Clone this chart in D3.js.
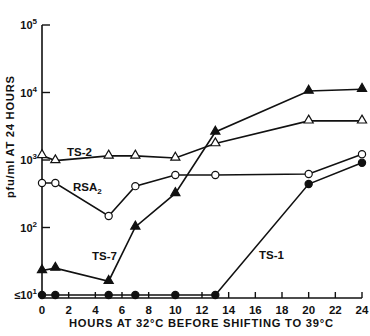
<!DOCTYPE html>
<html><head><meta charset="utf-8">
<script src="https://cdn.jsdelivr.net/npm/d3@7"></script>
<style>
body{margin:0;background:#fff;}
svg text{font-family:"Liberation Sans",Arial,sans-serif;fill:#111;}
</style></head>
<body><svg id="c" width="370" height="336"></svg>
<script>
const hours = [0, 1, 5, 7, 10, 13, 20, 24];
const ts2  = [1170, 980, 1150, 1150, 1070, 1750, 3800, 3800];
const ts7  = [23, 25, 16, 102, 320, 2600, 10500, 11200];
const rsa2 = [457, 457, 148, 410, 600, 600, 620, 1220];
const ts1  = [10, 10, 10, 10, 10, 10, 440, 910];
const xTicks = [0, 2, 4, 6, 8, 10, 12, 14, 16, 18, 20, 22, 24];
const yTicks = [10, 100, 1000, 10000, 100000];
const yExp = ["1", "2", "3", "4", "5"];
const xLabel = "HOURS AT 32°C BEFORE SHIFTING TO 39°C";

const svg = d3.select("#c");
const x = d3.scaleLinear().domain([0, 24]).range([42, 362]);
const y = d3.scaleLog().domain([10, 100000]).range([295, 25]);
const ink = "#111";
const axisY = 298;

svg.append("line").attr("x1", x(0)).attr("x2", x(0)).attr("y1", y(100000)).attr("y2", axisY)
  .attr("stroke", ink).attr("stroke-width", 1.6);
svg.append("line").attr("x1", x(0)).attr("x2", x(24)).attr("y1", axisY).attr("y2", axisY)
  .attr("stroke", ink).attr("stroke-width", 1.6);

svg.selectAll(".xt").data(xTicks).join("line")
  .attr("x1", d => x(d)).attr("x2", d => x(d)).attr("y1", axisY).attr("y2", axisY - 6)
  .attr("stroke", ink).attr("stroke-width", 1.4);
svg.selectAll(".xl").data(xTicks).join("text")
  .attr("x", d => x(d)).attr("y", 314).attr("text-anchor", "middle")
  .attr("font-size", 11.5).attr("font-weight", "bold").text(d => d);

svg.selectAll(".yt").data(yTicks.slice(1)).join("line")
  .attr("x1", x(0)).attr("x2", x(0) + 8).attr("y1", d => y(d)).attr("y2", d => y(d))
  .attr("stroke", ink).attr("stroke-width", 1.4);
yTicks.forEach((v, i) => {
  const t = svg.append("text").attr("x", 37).attr("y", y(v) + 4).attr("text-anchor", "end")
    .attr("font-size", 11).attr("font-weight", "bold");
  if (i === 0) t.append("tspan").text("≤");
  t.append("tspan").text("10");
  t.append("tspan").attr("dy", -5).attr("font-size", 8).text(yExp[i]);
});

svg.append("text").attr("x", 201).attr("y", 327).attr("text-anchor", "middle")
  .attr("font-size", 11.2).attr("font-weight", "bold").attr("textLength", 264)
  .text(xLabel);
svg.append("text").attr("transform", "translate(14,137) rotate(-90)").attr("text-anchor", "middle")
  .attr("font-size", 11.2).attr("font-weight", "bold").attr("textLength", 122)
  .text("pfu/ml  AT 24 HOURS");

const line = d3.line().x(d => x(d[0])).y(d => y(d[1]));
const series = [
  {vals: ts2, marker: "tri", fill: "#fff"},
  {vals: ts7, marker: "tri", fill: ink},
  {vals: rsa2, marker: "circ", fill: "#fff"},
  {vals: ts1, marker: "circ", fill: ink}
];
series.forEach(s => {
  const pts = hours.map((h, i) => [h, s.vals[i]]);
  svg.append("path").attr("d", line(pts)).attr("fill", "none")
    .attr("stroke", ink).attr("stroke-width", 1.6);
});
series.forEach(s => {
  const pts = hours.map((h, i) => [h, s.vals[i]]);
  if (s.marker === "tri") {
    svg.selectAll(null).data(pts).join("path")
      .attr("d", d3.symbol().type(d3.symbolTriangle).size(36))
      .attr("transform", d => `translate(${x(d[0])},${y(d[1]) - 0.5})`)
      .attr("fill", s.fill).attr("stroke", ink).attr("stroke-width", 1.2);
  } else {
    svg.selectAll(null).data(pts).join("circle")
      .attr("cx", d => x(d[0])).attr("cy", d => y(d[1])).attr("r", 3.6)
      .attr("fill", s.fill).attr("stroke", ink).attr("stroke-width", 1.2);
  }
});

const lab = (txt, xx, yy, sub) => {
  const t = svg.append("text").attr("x", xx).attr("y", yy).attr("font-size", 11.5).attr("font-weight", "bold").text(txt);
  if (sub) t.append("tspan").attr("dy", 3).attr("font-size", 8).text(sub);
};
lab("TS-2", 67, 156);
lab("RSA", 73, 191, "2");
lab("TS-7", 92, 260);
lab("TS-1", 259, 259);
</script></body></html>
